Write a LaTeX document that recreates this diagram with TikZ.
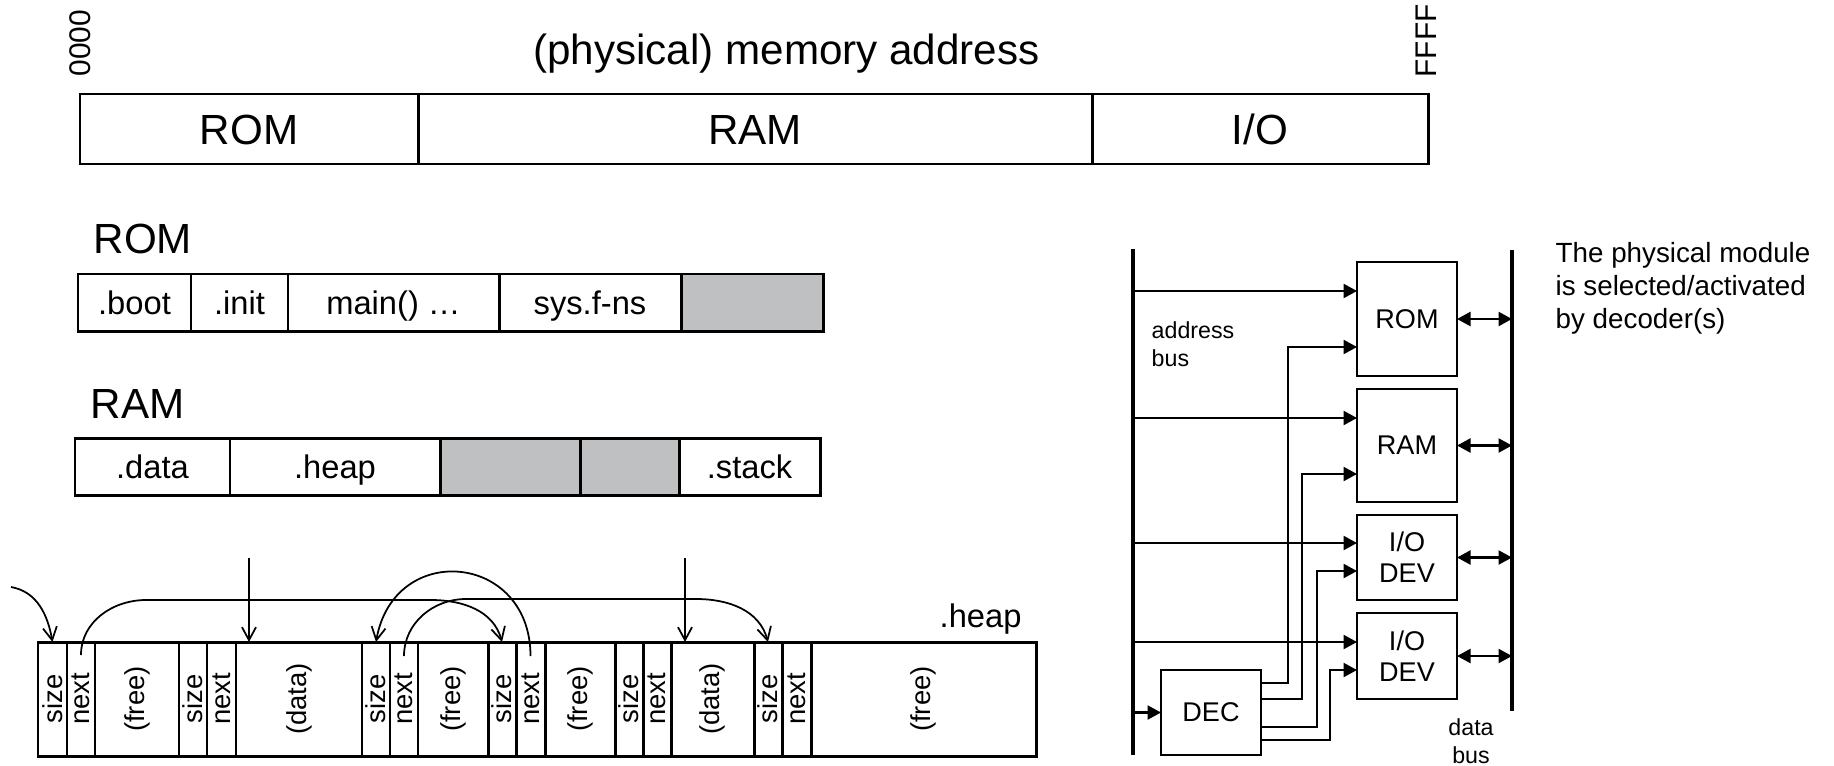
\documentclass[tikz,border=0pt]{standalone}
\usepackage{fontspec}
\usepackage{graphicx}
\setmainfont{Liberation Sans}
\usetikzlibrary{positioning,calc,arrows.meta}

\definecolor{spare}{RGB}{191,192,194}
\newcommand{\bigfont}{\fontsize{12}{14}\selectfont}
\newcommand{\midfont}{\fontsize{9.3}{11}\selectfont}
\newcommand{\vtext}[1]{\rotatebox{90}{#1}}

\tikzstyle{box}=[draw,line width=0.85pt,outer sep=0pt,inner sep=0pt]
\tikzstyle{seg}=[box,minimum height=0.57cm,text height=7.6pt,text depth=0.9pt,font=\midfont]
\tikzstyle{region}=[box,minimum height=0.70cm,text height=8.8pt,text depth=0pt,font=\bigfont]
\tikzstyle{blk}=[box,minimum height=1.14cm,font=\fontsize{7.8}{9}\selectfont]
\tikzstyle{unused}=[fill=spare]
\tikzstyle{link}=[line width=0.5pt,-{Straight Barb[length=1.3mm,width=1.4mm]}]
\tikzstyle{module}=[draw,line width=0.8pt,outer sep=0pt,minimum width=1cm,align=center,font=\fontsize{7.7}{8.8}\selectfont]
\tikzstyle{sig}=[line width=0.65pt,-{Triangle[length=1.35mm,width=1.4mm]}]
\tikzstyle{bidir}=[line width=0.65pt,{Triangle[length=1.35mm,width=1.4mm]}-{Triangle[length=1.35mm,width=1.4mm]}]
\tikzstyle{bus}=[line width=0.95pt]
\tikzstyle{small}=[font=\fontsize{6.6}{8}\selectfont,inner sep=0pt]

\begin{document}
\begin{tikzpicture}
\useasboundingbox (0,0) rectangle (18.34,-7.65);

% address map
\node[font=\bigfont,anchor=base] (title) at (7.865,-0.65) {(physical) memory address};
\node[rotate=90,font=\fontsize{8.5}{10}\selectfont] (lo) at (0.80,-0.43) {0000};
\node[rotate=90,font=\fontsize{8.5}{10}\selectfont] (hi) at (14.26,-0.41) {FFFF};

\node[region,minimum width=3.38cm,anchor=west] (rom) at (0.80,-1.29) {ROM};
\node[region,minimum width=6.74cm,right=0pt of rom] (ram) {RAM};
\node[region,minimum width=3.36cm,right=0pt of ram] (io) {I/O};

% ROM sections
\node[font=\bigfont,anchor=base west,inner sep=0pt] (romhead) at (0.93,-2.53) {ROM};
\node[seg,minimum width=1.13cm,anchor=west] (boot) at (0.78,-3.025) {.boot};
\node[seg,minimum width=0.97cm,right=0pt of boot] (init) {.init};
\node[seg,minimum width=2.11cm,right=0pt of init] (main) {main() …};
\node[seg,minimum width=1.82cm,right=0pt of main] (sysf) {sys.f-ns};
\node[seg,unused,minimum width=1.42cm,right=0pt of sysf] (romgap) {};

% RAM sections
\node[font=\bigfont,anchor=base west,inner sep=0pt] (ramhead) at (0.90,-4.18) {RAM};
\node[seg,minimum width=1.55cm,anchor=west] (data) at (0.75,-4.665) {.data};
\node[seg,minimum width=2.10cm,right=0pt of data] (heap) {.heap};
\node[seg,unused,minimum width=1.40cm,right=0pt of heap] (gap1) {};
\node[seg,unused,minimum width=0.99cm,right=0pt of gap1] (gap2) {};
\node[seg,minimum width=1.41cm,right=0pt of gap2] (stack) {.stack};

% heap blocks
\node[font=\midfont,anchor=base west,inner sep=0pt] (heaplbl) at (9.39,-6.27) {.heap};
\node[blk,minimum width=0.29cm,anchor=west] (s1) at (0.38,-6.99) {\vtext{size}};
\node[blk,minimum width=0.28cm,right=0pt of s1] (n1) {\vtext{next}};
\node[blk,minimum width=0.84cm,right=0pt of n1] (f1) {\vtext{(free)}};
\node[blk,minimum width=0.28cm,right=0pt of f1] (s2) {\vtext{size}};
\node[blk,minimum width=0.29cm,right=0pt of s2] (n2) {\vtext{next}};
\node[blk,minimum width=1.26cm,right=0pt of n2] (d1) {\vtext{(data)}};
\node[blk,minimum width=0.28cm,right=0pt of d1] (s3) {\vtext{size}};
\node[blk,minimum width=0.28cm,right=0pt of s3] (n3) {\vtext{next}};
\node[blk,minimum width=0.70cm,right=0pt of n3] (f2) {\vtext{(free)}};
\node[blk,minimum width=0.28cm,right=0pt of f2] (s4) {\vtext{size}};
\node[blk,minimum width=0.29cm,right=0pt of s4] (n4) {\vtext{next}};
\node[blk,minimum width=0.70cm,right=0pt of n4] (f3) {\vtext{(free)}};
\node[blk,minimum width=0.28cm,right=0pt of f3] (s5) {\vtext{size}};
\node[blk,minimum width=0.28cm,right=0pt of s5] (n5) {\vtext{next}};
\node[blk,minimum width=0.83cm,right=0pt of n5] (d2) {\vtext{(data)}};
\node[blk,minimum width=0.28cm,right=0pt of d2] (s6) {\vtext{size}};
\node[blk,minimum width=0.29cm,right=0pt of s6] (n6) {\vtext{next}};
\node[blk,minimum width=2.25cm,right=0pt of n6] (f4) {\vtext{(free)}\hspace{0.28cm}};

\coordinate (head) at (0.11,-5.87);
\coordinate (ptr1) at (2.49,-5.58);
\coordinate (ptr2) at (6.85,-5.58);
\draw[link] (head) to[out=-10,in=100] (s1.north);
\draw[link] ([yshift=-1.3mm]n1.north) to[out=90,in=180] ++(0.65,0.55) -- ++(2.85,0) to[out=0,in=105] (s4.north);
\draw[link] ([yshift=-1.4mm]n4.north) to[out=90,in=80,looseness=1.7] (s3.north);
\draw[link] ([yshift=-1.4mm]n3.north) to[out=90,in=180] ++(0.62,0.57) -- ++(2.3,0) to[out=0,in=105] (s6.north);
\draw[link] (ptr1) -- (ptr1 |- d1.north);
\draw[link] (ptr2) -- (ptr2 |- d2.north);

% decoding of the modules
\coordinate (abus) at (11.33,-2.49);
\coordinate (abusend) at (11.33,-7.55);
\coordinate (dbus) at (15.12,-2.50);
\coordinate (dbusend) at (15.12,-7.11);

\node[module,minimum height=1.14cm] (rommod) at (14.07,-3.19) {ROM};
\node[module,minimum height=1.13cm,below=0.13cm of rommod] (rammod) {RAM};
\node[module,minimum height=0.85cm,below=0.13cm of rammod] (io1) {I/O\\DEV};
\node[module,minimum height=0.86cm,below=0.13cm of io1] (io2) {I/O\\DEV};
\node[module,minimum height=0.85cm] (dec) at (12.11,-7.125) {DEC};

\draw[sig] (abus) |- ([yshift=-2.9mm]rommod.north west);
\draw[sig] (abus) |- ([yshift=-2.9mm]rammod.north west);
\draw[sig] (abus) |- ([yshift=-2.8mm]io1.north west);
\draw[sig] (abus) |- ([yshift=-2.9mm]io2.north west);
\draw[sig] (abus) |- (dec.west);
\draw[bus] (abus) -- (abusend);
\draw[bus] (dbus) -- (dbusend);

\draw[sig] ([yshift=-1.3mm]dec.north east) -| ([xshift=-6.9mm,yshift=2.9mm]rommod.south west) -- ([yshift=2.9mm]rommod.south west);
\draw[sig] ([yshift=-2.9mm]dec.north east) -| ([xshift=-5.5mm,yshift=2.8mm]rammod.south west) -- ([yshift=2.8mm]rammod.south west);
\draw[sig] ([yshift=-5.7mm]dec.north east) -| ([xshift=-4.0mm,yshift=2.9mm]io1.south west) -- ([yshift=2.9mm]io1.south west);
\draw[sig] ([yshift=-7.0mm]dec.north east) -| ([xshift=-2.7mm,yshift=2.9mm]io2.south west) -- ([yshift=2.9mm]io2.south west);

\draw[bidir] (rommod.east) -- (rommod.east -| dbus);
\draw[bidir] (rammod.east) -- (rammod.east -| dbus);
\draw[bidir] (io1.east) -- (io1.east -| dbus);
\draw[bidir] (io2.east) -- (io2.east -| dbus);

\node[small,align=left,anchor=north west] (abuslbl) at (11.51,-3.21) {address\\bus};
\node[small,align=center,anchor=north] (dbuslbl) at (14.71,-7.18) {data\\bus};
\node[align=left,anchor=north west,inner sep=0pt,font=\fontsize{7.9}{9.3}\selectfont] (note) at (15.55,-2.42) {The physical module\\is selected/activated\\by decoder(s)};
\end{tikzpicture}
\end{document}
